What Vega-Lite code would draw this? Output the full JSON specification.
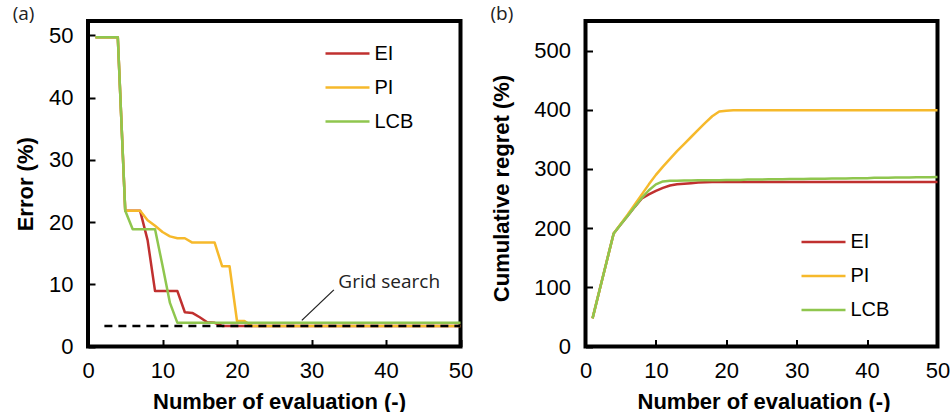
{
  "$schema": "https://vega.github.io/schema/vega-lite/v6.json",
  "padding": {"left": 10, "top": 3, "right": 30, "bottom": 30},
  "background": "white",
  "datasets": {
    "err": [
      {"n":1,"v":49.7,"m":"EI"},{"n":2,"v":49.7,"m":"EI"},{"n":3,"v":49.7,"m":"EI"},{"n":4,"v":49.7,"m":"EI"},{"n":5,"v":21.8,"m":"EI"},
      {"n":6,"v":21.8,"m":"EI"},{"n":7,"v":21.8,"m":"EI"},{"n":8,"v":17.1,"m":"EI"},{"n":9,"v":8.9,"m":"EI"},{"n":10,"v":8.9,"m":"EI"},
      {"n":11,"v":8.9,"m":"EI"},{"n":12,"v":8.9,"m":"EI"},{"n":13,"v":5.5,"m":"EI"},{"n":14,"v":5.4,"m":"EI"},{"n":15,"v":4.7,"m":"EI"},
      {"n":16,"v":3.9,"m":"EI"},{"n":17,"v":3.8,"m":"EI"},{"n":18,"v":3.3,"m":"EI"},{"n":19,"v":3.3,"m":"EI"},{"n":20,"v":3.3,"m":"EI"},
      {"n":21,"v":3.3,"m":"EI"},{"n":22,"v":3.3,"m":"EI"},{"n":23,"v":3.3,"m":"EI"},{"n":24,"v":3.3,"m":"EI"},{"n":25,"v":3.3,"m":"EI"},
      {"n":26,"v":3.3,"m":"EI"},{"n":27,"v":3.3,"m":"EI"},{"n":28,"v":3.3,"m":"EI"},{"n":29,"v":3.3,"m":"EI"},{"n":30,"v":3.3,"m":"EI"},
      {"n":31,"v":3.3,"m":"EI"},{"n":32,"v":3.3,"m":"EI"},{"n":33,"v":3.3,"m":"EI"},{"n":34,"v":3.3,"m":"EI"},{"n":35,"v":3.3,"m":"EI"},
      {"n":36,"v":3.3,"m":"EI"},{"n":37,"v":3.3,"m":"EI"},{"n":38,"v":3.3,"m":"EI"},{"n":39,"v":3.3,"m":"EI"},{"n":40,"v":3.3,"m":"EI"},
      {"n":41,"v":3.3,"m":"EI"},{"n":42,"v":3.3,"m":"EI"},{"n":43,"v":3.3,"m":"EI"},{"n":44,"v":3.3,"m":"EI"},{"n":45,"v":3.3,"m":"EI"},
      {"n":46,"v":3.3,"m":"EI"},{"n":47,"v":3.3,"m":"EI"},{"n":48,"v":3.3,"m":"EI"},{"n":49,"v":3.3,"m":"EI"},{"n":50,"v":3.3,"m":"EI"},
      {"n":1,"v":49.7,"m":"PI"},{"n":2,"v":49.7,"m":"PI"},{"n":3,"v":49.7,"m":"PI"},{"n":4,"v":49.7,"m":"PI"},{"n":5,"v":21.8,"m":"PI"},
      {"n":6,"v":21.8,"m":"PI"},{"n":7,"v":21.8,"m":"PI"},{"n":8,"v":20.3,"m":"PI"},{"n":9,"v":19.4,"m":"PI"},{"n":10,"v":18.4,"m":"PI"},
      {"n":11,"v":17.7,"m":"PI"},{"n":12,"v":17.4,"m":"PI"},{"n":13,"v":17.4,"m":"PI"},{"n":14,"v":16.7,"m":"PI"},{"n":15,"v":16.7,"m":"PI"},
      {"n":16,"v":16.7,"m":"PI"},{"n":17,"v":16.7,"m":"PI"},{"n":18,"v":12.9,"m":"PI"},{"n":19,"v":12.9,"m":"PI"},{"n":20,"v":4.1,"m":"PI"},
      {"n":21,"v":4.1,"m":"PI"},{"n":22,"v":3.3,"m":"PI"},{"n":23,"v":3.3,"m":"PI"},{"n":24,"v":3.3,"m":"PI"},{"n":25,"v":3.3,"m":"PI"},
      {"n":26,"v":3.3,"m":"PI"},{"n":27,"v":3.3,"m":"PI"},{"n":28,"v":3.3,"m":"PI"},{"n":29,"v":3.3,"m":"PI"},{"n":30,"v":3.3,"m":"PI"},
      {"n":31,"v":3.3,"m":"PI"},{"n":32,"v":3.3,"m":"PI"},{"n":33,"v":3.3,"m":"PI"},{"n":34,"v":3.3,"m":"PI"},{"n":35,"v":3.3,"m":"PI"},
      {"n":36,"v":3.3,"m":"PI"},{"n":37,"v":3.3,"m":"PI"},{"n":38,"v":3.3,"m":"PI"},{"n":39,"v":3.3,"m":"PI"},{"n":40,"v":3.3,"m":"PI"},
      {"n":41,"v":3.3,"m":"PI"},{"n":42,"v":3.3,"m":"PI"},{"n":43,"v":3.3,"m":"PI"},{"n":44,"v":3.3,"m":"PI"},{"n":45,"v":3.3,"m":"PI"},
      {"n":46,"v":3.3,"m":"PI"},{"n":47,"v":3.3,"m":"PI"},{"n":48,"v":3.3,"m":"PI"},{"n":49,"v":3.3,"m":"PI"},{"n":50,"v":3.3,"m":"PI"},
      {"n":1,"v":49.7,"m":"LCB"},{"n":2,"v":49.7,"m":"LCB"},{"n":3,"v":49.7,"m":"LCB"},{"n":4,"v":49.7,"m":"LCB"},{"n":5,"v":21.8,"m":"LCB"},
      {"n":6,"v":18.85,"m":"LCB"},{"n":7,"v":18.85,"m":"LCB"},{"n":8,"v":18.85,"m":"LCB"},{"n":9,"v":18.85,"m":"LCB"},{"n":10,"v":13.0,"m":"LCB"},
      {"n":11,"v":7.0,"m":"LCB"},{"n":12,"v":3.8,"m":"LCB"},{"n":13,"v":3.8,"m":"LCB"},{"n":14,"v":3.8,"m":"LCB"},{"n":15,"v":3.8,"m":"LCB"},
      {"n":16,"v":3.8,"m":"LCB"},{"n":17,"v":3.8,"m":"LCB"},{"n":18,"v":3.8,"m":"LCB"},{"n":19,"v":3.8,"m":"LCB"},{"n":20,"v":3.8,"m":"LCB"},
      {"n":21,"v":3.8,"m":"LCB"},{"n":22,"v":3.8,"m":"LCB"},{"n":23,"v":3.8,"m":"LCB"},{"n":24,"v":3.8,"m":"LCB"},{"n":25,"v":3.8,"m":"LCB"},
      {"n":26,"v":3.8,"m":"LCB"},{"n":27,"v":3.8,"m":"LCB"},{"n":28,"v":3.8,"m":"LCB"},{"n":29,"v":3.8,"m":"LCB"},{"n":30,"v":3.8,"m":"LCB"},
      {"n":31,"v":3.8,"m":"LCB"},{"n":32,"v":3.8,"m":"LCB"},{"n":33,"v":3.8,"m":"LCB"},{"n":34,"v":3.8,"m":"LCB"},{"n":35,"v":3.8,"m":"LCB"},
      {"n":36,"v":3.8,"m":"LCB"},{"n":37,"v":3.8,"m":"LCB"},{"n":38,"v":3.8,"m":"LCB"},{"n":39,"v":3.8,"m":"LCB"},{"n":40,"v":3.8,"m":"LCB"},
      {"n":41,"v":3.8,"m":"LCB"},{"n":42,"v":3.8,"m":"LCB"},{"n":43,"v":3.8,"m":"LCB"},{"n":44,"v":3.8,"m":"LCB"},{"n":45,"v":3.8,"m":"LCB"},
      {"n":46,"v":3.8,"m":"LCB"},{"n":47,"v":3.8,"m":"LCB"},{"n":48,"v":3.8,"m":"LCB"},{"n":49,"v":3.8,"m":"LCB"},{"n":50,"v":3.8,"m":"LCB"}
    ],
    "reg": [
      {"n":1,"v":47.6,"m":"EI"},{"n":2,"v":95.5,"m":"EI"},{"n":3,"v":143.3,"m":"EI"},{"n":4,"v":191,"m":"EI"},{"n":5,"v":206,"m":"EI"},
      {"n":6,"v":221,"m":"EI"},{"n":7,"v":236,"m":"EI"},{"n":8,"v":250,"m":"EI"},{"n":9,"v":257,"m":"EI"},{"n":10,"v":263,"m":"EI"},
      {"n":11,"v":268,"m":"EI"},{"n":12,"v":272,"m":"EI"},{"n":13,"v":274,"m":"EI"},{"n":14,"v":275,"m":"EI"},{"n":15,"v":276,"m":"EI"},
      {"n":16,"v":277,"m":"EI"},{"n":17,"v":277.5,"m":"EI"},{"n":18,"v":278,"m":"EI"},{"n":19,"v":278,"m":"EI"},{"n":20,"v":278,"m":"EI"},
      {"n":21,"v":278,"m":"EI"},{"n":22,"v":278,"m":"EI"},{"n":23,"v":278,"m":"EI"},{"n":24,"v":278,"m":"EI"},{"n":25,"v":278,"m":"EI"},
      {"n":26,"v":278,"m":"EI"},{"n":27,"v":278,"m":"EI"},{"n":28,"v":278,"m":"EI"},{"n":29,"v":278,"m":"EI"},{"n":30,"v":278,"m":"EI"},
      {"n":31,"v":278,"m":"EI"},{"n":32,"v":278,"m":"EI"},{"n":33,"v":278,"m":"EI"},{"n":34,"v":278,"m":"EI"},{"n":35,"v":278,"m":"EI"},
      {"n":36,"v":278,"m":"EI"},{"n":37,"v":278,"m":"EI"},{"n":38,"v":278,"m":"EI"},{"n":39,"v":278,"m":"EI"},{"n":40,"v":278,"m":"EI"},
      {"n":41,"v":278,"m":"EI"},{"n":42,"v":278,"m":"EI"},{"n":43,"v":278,"m":"EI"},{"n":44,"v":278,"m":"EI"},{"n":45,"v":278,"m":"EI"},
      {"n":46,"v":278,"m":"EI"},{"n":47,"v":278,"m":"EI"},{"n":48,"v":278,"m":"EI"},{"n":49,"v":278,"m":"EI"},{"n":50,"v":278,"m":"EI"},
      {"n":1,"v":47.6,"m":"PI"},{"n":2,"v":95.5,"m":"PI"},{"n":3,"v":143.3,"m":"PI"},{"n":4,"v":191,"m":"PI"},{"n":5,"v":207,"m":"PI"},
      {"n":6,"v":223,"m":"PI"},{"n":7,"v":240,"m":"PI"},{"n":8,"v":257,"m":"PI"},{"n":9,"v":274,"m":"PI"},{"n":10,"v":290,"m":"PI"},
      {"n":11,"v":304,"m":"PI"},{"n":12,"v":317,"m":"PI"},{"n":13,"v":330,"m":"PI"},{"n":14,"v":342,"m":"PI"},{"n":15,"v":354,"m":"PI"},
      {"n":16,"v":366,"m":"PI"},{"n":17,"v":378,"m":"PI"},{"n":18,"v":389,"m":"PI"},{"n":19,"v":397,"m":"PI"},{"n":20,"v":398.5,"m":"PI"},
      {"n":21,"v":399,"m":"PI"},{"n":22,"v":399,"m":"PI"},{"n":23,"v":399,"m":"PI"},{"n":24,"v":399,"m":"PI"},{"n":25,"v":399,"m":"PI"},
      {"n":26,"v":399,"m":"PI"},{"n":27,"v":399,"m":"PI"},{"n":28,"v":399,"m":"PI"},{"n":29,"v":399,"m":"PI"},{"n":30,"v":399,"m":"PI"},
      {"n":31,"v":399,"m":"PI"},{"n":32,"v":399,"m":"PI"},{"n":33,"v":399,"m":"PI"},{"n":34,"v":399,"m":"PI"},{"n":35,"v":399,"m":"PI"},
      {"n":36,"v":399,"m":"PI"},{"n":37,"v":399,"m":"PI"},{"n":38,"v":399,"m":"PI"},{"n":39,"v":399,"m":"PI"},{"n":40,"v":399,"m":"PI"},
      {"n":41,"v":399,"m":"PI"},{"n":42,"v":399,"m":"PI"},{"n":43,"v":399,"m":"PI"},{"n":44,"v":399,"m":"PI"},{"n":45,"v":399,"m":"PI"},
      {"n":46,"v":399,"m":"PI"},{"n":47,"v":399,"m":"PI"},{"n":48,"v":399,"m":"PI"},{"n":49,"v":399,"m":"PI"},{"n":50,"v":399,"m":"PI"},
      {"n":1,"v":47.6,"m":"LCB"},{"n":2,"v":95.5,"m":"LCB"},{"n":3,"v":143.3,"m":"LCB"},{"n":4,"v":191,"m":"LCB"},{"n":5,"v":206,"m":"LCB"},
      {"n":6,"v":221,"m":"LCB"},{"n":7,"v":236,"m":"LCB"},{"n":8,"v":251,"m":"LCB"},{"n":9,"v":264,"m":"LCB"},{"n":10,"v":274,"m":"LCB"},
      {"n":11,"v":279,"m":"LCB"},{"n":12,"v":280,"m":"LCB"},{"n":13,"v":280,"m":"LCB"},{"n":14,"v":280.5,"m":"LCB"},{"n":15,"v":280.5,"m":"LCB"},
      {"n":16,"v":281,"m":"LCB"},{"n":17,"v":281,"m":"LCB"},{"n":18,"v":281,"m":"LCB"},{"n":19,"v":281,"m":"LCB"},{"n":20,"v":281.5,"m":"LCB"},
      {"n":21,"v":281.5,"m":"LCB"},{"n":22,"v":281.5,"m":"LCB"},{"n":23,"v":282,"m":"LCB"},{"n":24,"v":282,"m":"LCB"},{"n":25,"v":282,"m":"LCB"},
      {"n":26,"v":282.5,"m":"LCB"},{"n":27,"v":282.5,"m":"LCB"},{"n":28,"v":282.5,"m":"LCB"},{"n":29,"v":283,"m":"LCB"},{"n":30,"v":283,"m":"LCB"},
      {"n":31,"v":283,"m":"LCB"},{"n":32,"v":283.5,"m":"LCB"},{"n":33,"v":283.5,"m":"LCB"},{"n":34,"v":283.5,"m":"LCB"},{"n":35,"v":284,"m":"LCB"},
      {"n":36,"v":284,"m":"LCB"},{"n":37,"v":284,"m":"LCB"},{"n":38,"v":284.5,"m":"LCB"},{"n":39,"v":284.5,"m":"LCB"},{"n":40,"v":284.5,"m":"LCB"},
      {"n":41,"v":285,"m":"LCB"},{"n":42,"v":285,"m":"LCB"},{"n":43,"v":285,"m":"LCB"},{"n":44,"v":285.5,"m":"LCB"},{"n":45,"v":285.5,"m":"LCB"},
      {"n":46,"v":285.5,"m":"LCB"},{"n":47,"v":286,"m":"LCB"},{"n":48,"v":286,"m":"LCB"},{"n":49,"v":286,"m":"LCB"},{"n":50,"v":286.5,"m":"LCB"}
    ],
    "grid": [{"x": 2.2, "x2": 50, "y": 3.3}],
    "lead": [{"x": 28.7, "y": 4.2, "x2": 33, "y2": 9.1}],
    "note": [{"x": 33.6, "y": 10.3, "t": "Grid search"}]
  },
  "bounds": "flush",
  "spacing": 124.5,
  "hconcat": [
    {
      "width": 372.5,
      "height": 325.5,
      "title": {"text": "(a)", "dx": -75.3},
      "layer": [
        {
          "data": {"name": "err"},
          "mark": {"type": "line", "strokeWidth": 2.5, "strokeJoin": "round"},
          "encoding": {
            "x": {"field": "n", "type": "quantitative", "scale": {"domain": [0, 50], "nice": false},
                  "axis": {"values": [0, 10, 20, 30, 40, 50], "title": "Number of evaluation (-)", "titleX": 191}},
            "y": {"field": "v", "type": "quantitative", "scale": {"domain": [0, 52.3], "nice": false},
                  "axis": {"values": [0, 10, 20, 30, 40, 50], "title": "Error (%)", "titleX": -55.7}},
            "color": {"field": "m", "type": "nominal",
                      "scale": {"domain": ["EI", "PI", "LCB"], "range": ["#C0302F", "#F6B92B", "#8FC64E"]},
                      "legend": {"title": null, "legendX": 236, "legendY": 9}}
          }
        },
        {
          "data": {"name": "grid"},
          "mark": {"type": "rule", "strokeDash": [8, 6], "strokeWidth": 2.5, "color": "black"},
          "encoding": {
            "x": {"field": "x", "type": "quantitative"},
            "x2": {"field": "x2"},
            "y": {"field": "y", "type": "quantitative"}
          }
        },
        {
          "data": {"name": "lead"},
          "mark": {"type": "rule", "strokeWidth": 1.3, "color": "#222"},
          "encoding": {
            "x": {"field": "x", "type": "quantitative"},
            "x2": {"field": "x2"},
            "y": {"field": "y", "type": "quantitative"},
            "y2": {"field": "y2"}
          }
        },
        {
          "data": {"name": "note"},
          "mark": {"type": "text", "font": "Open Sans", "fontSize": 19, "color": "#222", "align": "left", "baseline": "middle"},
          "encoding": {
            "x": {"field": "x", "type": "quantitative"},
            "y": {"field": "y", "type": "quantitative"},
            "text": {"field": "t"}
          }
        }
      ]
    },
    {
      "width": 352,
      "height": 325.5,
      "title": {"text": "(b)", "dx": -95},
      "data": {"name": "reg"},
      "mark": {"type": "line", "strokeWidth": 2.5, "strokeJoin": "round"},
      "encoding": {
        "x": {"field": "n", "type": "quantitative", "scale": {"domain": [0, 50], "nice": false},
              "axis": {"values": [0, 10, 20, 30, 40, 50], "title": "Number of evaluation (-)", "titleX": 178}},
        "y": {"field": "v", "type": "quantitative", "scale": {"domain": [0, 550], "nice": false},
              "axis": {"values": [0, 100, 200, 300, 400, 500], "title": "Cumulative regret (%)", "titleX": -76.7, "titleY": 167}},
        "color": {"field": "m", "type": "nominal",
                  "scale": {"domain": ["EI", "PI", "LCB"], "range": ["#C0302F", "#F6B92B", "#8FC64E"]},
                  "legend": {"title": null, "legendX": 214.5, "legendY": 197.6}}
      }
    }
  ],
  "resolve": {"legend": {"color": "independent"}},
  "config": {
    "view": {"stroke": "black", "strokeWidth": 4},
    "title": {"anchor": "start", "frame": "group", "font": "Open Sans", "fontSize": 19, "fontWeight": "normal",
              "baseline": "alphabetic", "offset": 0, "dy": 7, "color": "#222"},
    "axis": {"domain": false, "grid": false, "ticks": true, "tickColor": "black", "tickWidth": 2, "tickSize": -7,
             "labelFont": "Liberation Sans", "labelFontSize": 22, "labelColor": "black", "labelFlush": false,
             "labelOverlap": false, "titleFont": "Liberation Sans", "titleFontSize": 22, "titleFontWeight": "bold",
             "titleColor": "black", "titleBaseline": "alphabetic"},
    "axisX": {"labelPadding": 21, "titleY": 62},
    "axisY": {"labelPadding": 22},
    "legend": {"orient": "none", "symbolType": "stroke", "symbolSize": 1936, "symbolStrokeWidth": 2.5,
               "labelFont": "Liberation Sans", "labelFontSize": 20, "labelColor": "black", "labelOffset": 3.5,
               "rowPadding": 0, "padding": 0}
  }
}
